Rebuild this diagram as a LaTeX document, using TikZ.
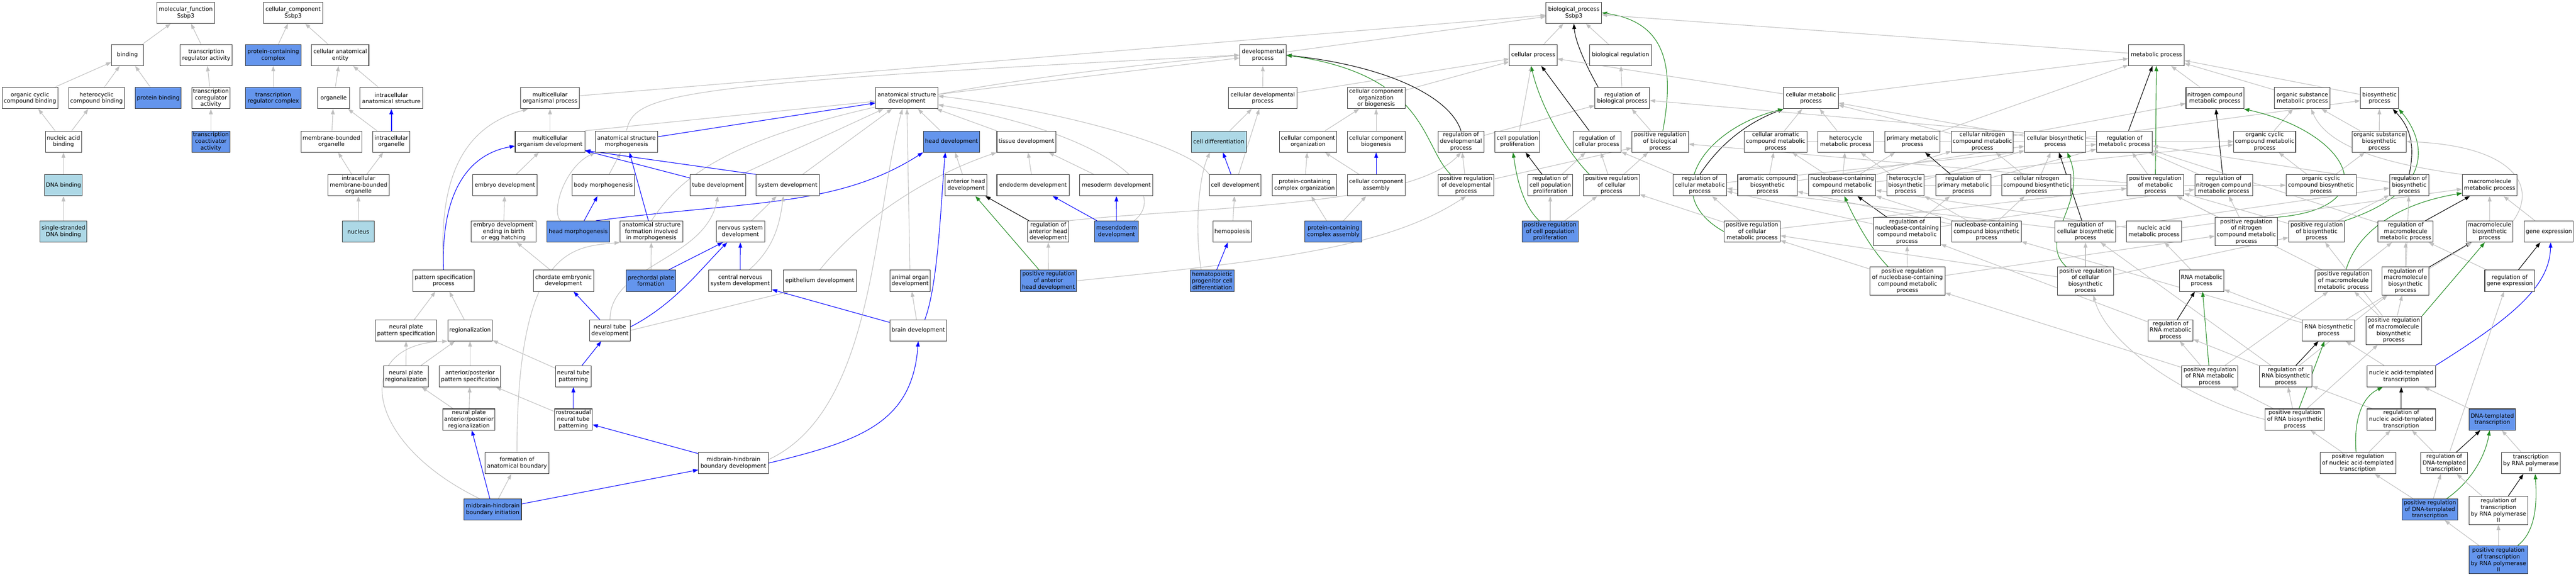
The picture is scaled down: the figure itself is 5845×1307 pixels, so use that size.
\documentclass[tikz,border=0pt]{standalone}
\usepackage{fontspec}
\setmainfont{DejaVu Sans}
\usetikzlibrary{arrows.meta}
\definecolor{cfb}{HTML}{6495ED}
\definecolor{lbc}{HTML}{ADD8E6}
\definecolor{egray}{HTML}{C0C0C0}
\definecolor{fgreen}{HTML}{228B22}
\pgfdeclarelayer{back}
\pgfdeclarelayer{edges}
\pgfsetlayers{back,edges,main}
\newcommand\gnode[6]{\node[#1,minimum width=#5bp] (#2) at (#3,#4) {#6};}
\newcommand\edg[3]{\draw[#1] (#2) -- (#3);}
\tikzset{
 gn/.style={draw=black!80, line width=1.2bp, fill=white, rectangle, inner sep=0pt, align=center, minimum height=48bp, font=\fontsize{12.8}{14.8}\selectfont, text=black},
 bn/.style={gn, fill=cfb},
 ln/.style={gn, fill=lbc},
 tall/.style={minimum height=64bp},
 ge/.style={draw=egray, line width=1.3bp, -{Triangle[length=12bp,width=8.5bp]}},
 be/.style={ge, draw=blue},
 ke/.style={ge, draw=black},
 ve/.style={ge, draw=fgreen},
}
\begin{document}
\begin{tikzpicture}[x=1bp,y=-1bp]
\useasboundingbox (0,0) rectangle (5845,1307);
\begin{pgfonlayer}{back}\fill[white] (0,0) rectangle (5845,1307);\end{pgfonlayer}
% ---------- molecular function
\gnode{gn}{mf}{421.5}{29}{131}{molecular\_function\\Ssbp3}
\gnode{gn}{binding}{289}{125}{72}{binding}
\gnode{gn}{tra}{468}{125}{118}{transcription\\regulator activity}
\gnode{gn}{occb}{68}{222.5}{126}{organic cyclic\\compound binding}
\gnode{gn}{hcb}{219}{222.5}{126}{heterocyclic\\compound binding}
\gnode{bn}{pb}{359}{222.5}{104}{protein binding}
\gnode{gn}{tcra}{478.5}{222.5}{87}{transcription\\coregulator\\activity}
\gnode{gn}{nab}{144}{321}{82}{nucleic acid\\binding}
\gnode{bn}{tcaa}{478.5}{321}{87}{transcription\\coactivator\\activity}
\gnode{ln}{dnab}{144}{420}{86}{DNA binding}
\gnode{ln}{ssdna}{144}{525}{106}{single-stranded\\DNA binding}
% ---------- cellular component
\gnode{gn}{cc}{665}{29}{134}{cellular\_component\\Ssbp3}
\gnode{bn}{pcc}{620}{125}{126}{protein-containing\\complex}
\gnode{gn}{cae}{772}{125}{130}{cellular anatomical\\entity}
\gnode{bn}{trc}{620}{222.5}{126}{transcription\\regulator complex}
\gnode{gn}{org}{757}{222.5}{72}{organelle}
\gnode{gn}{ias}{888}{222.5}{142}{intracellular\\anatomical structure}
\gnode{gn}{mbo}{752}{321}{138}{membrane-bounded\\organelle}
\gnode{gn}{io}{888}{321}{84}{intracellular\\organelle}
\gnode{gn}{imbo}{813.5}{420}{139}{intracellular\\membrane-bounded\\organelle}
\gnode{ln}{nucleus}{813}{525}{72}{nucleus}
% ---------- biological process, left
\gnode{gn}{mop}{1248}{222.5}{134}{multicellular\\organismal process}
\gnode{gn}{mod}{1248}{321}{158}{multicellular\\organism development}
\gnode{gn}{asm}{1421.5}{321}{141}{anatomical structure\\morphogenesis}
\gnode{gn}{embdev}{1145.5}{420}{147}{embryo development}
\gnode{gn}{bodym}{1369}{420}{142}{body morphogenesis}
\gnode{gn}{embbirth}{1142.5}{525}{147}{embryo development\\ending in birth\\or egg hatching}
\gnode{bn}{headm}{1312}{525}{142}{head morphogenesis}
\gnode{gn}{asfim}{1478}{525}{142}{anatomical structure\\formation involved\\in morphogenesis}
\gnode{gn}{patspec}{1006.5}{636.5}{139}{pattern specification\\process}
\gnode{gn}{chordate}{1278.5}{636.5}{137}{chordate embryonic\\development}
\gnode{bn}{prechordal}{1477}{636.5}{112}{prechordal plate\\formation}
\gnode{gn}{npps}{921.5}{749}{139}{neural plate\\pattern specification}
\gnode{gn}{regionalization}{1066.5}{749}{101}{regionalization}
\gnode{gn}{ntdev}{1384}{749}{92}{neural tube\\development}
\gnode{gn}{npreg}{921}{853}{102}{neural plate\\regionalization}
\gnode{gn}{apps}{1066.5}{853}{139}{anterior/posterior\\pattern specification}
\gnode{gn}{ntpat}{1301}{853}{80}{neural tube\\patterning}
\gnode{gn}{npap}{1064}{951}{118}{neural plate\\anterior/posterior\\regionalization}
\gnode{gn}{rostro}{1301}{951}{86}{rostrocaudal\\neural tube\\patterning}
\gnode{gn}{fab}{1173}{1050}{144}{formation of\\anatomical boundary}
\gnode{bn}{mhbi}{1118}{1155}{130}{midbrain-hindbrain\\boundary initiation}
% ---------- development, middle
\gnode{gn}{asd}{2057.5}{222.5}{141}{anatomical structure\\development}
\gnode{bn}{headdev}{2159}{321}{128}{head development}
\gnode{gn}{tissuedev}{2329}{321}{134}{tissue development}
\gnode{gn}{tubedev}{1629}{420}{126}{tube development}
\gnode{gn}{sysdev}{1787.5}{420}{143}{system development}
\gnode{gn}{antheaddev}{2192}{420}{94}{anterior head\\development}
\gnode{gn}{endodev}{2344}{420}{164}{endoderm development}
\gnode{gn}{mesodev}{2533}{420}{166}{mesoderm development}
\gnode{gn}{nsdev}{1680}{525}{110}{nervous system\\development}
\gnode{gn}{regahd}{2378.5}{525}{93}{regulation of\\anterior head\\development}
\gnode{bn}{mesendo}{2533.5}{525}{99}{mesendoderm\\development}
\gnode{gn}{cnsdev}{1679.5}{636.5}{143}{central nervous\\system development}
\gnode{gn}{epidev}{1860}{636.5}{166}{epithelium development}
\gnode{gn}{aodev}{2065}{636.5}{92}{animal organ\\development}
\gnode{bn}{prahd}{2379}{636.5}{128}{positive regulation\\of anterior\\head development}
\gnode{gn}{braindev}{2083.5}{749}{129}{brain development}
\gnode{gn}{mhbdev}{1664}{1050}{158}{midbrain-hindbrain\\boundary development}
% ---------- centre
\gnode{gn}{bp}{3571}{29}{126}{biological\_process\\Ssbp3}
\gnode{gn}{devproc}{2865.5}{125}{105}{developmental\\process}
\gnode{gn}{cellproc}{3479}{125}{108}{cellular process}
\gnode{gn}{bioreg}{3677}{125}{140}{biological regulation}
\gnode{gn}{cdp}{2865}{222.5}{156}{cellular developmental\\process}
\gnode{gn}{ccoob}{3122.5}{222.5}{131}{cellular component\\organization\\or biogenesis}
\gnode{gn}{rbp}{3681}{222.5}{124}{regulation of\\biological process}
\gnode{gn}{cellmet}{4109}{222.5}{124}{cellular metabolic\\process}
\gnode{ln}{celldiff}{2765.5}{321}{125}{cell differentiation}
\gnode{gn}{cco}{2968}{321}{130}{cellular component\\organization}
\gnode{gn}{ccb}{3122.5}{321}{131}{cellular component\\biogenesis}
\gnode{gn}{rdp}{3315}{321}{104}{regulation of\\developmental\\process}
\gnode{gn}{cpp}{3443}{321}{102}{cell population\\proliferation}
\gnode{gn}{rcp}{3624}{321}{108}{regulation of\\cellular process}
\gnode{gn}{prbp}{3767}{321}{128}{positive regulation\\of biological\\process}
\gnode{gn}{cacmp}{4029}{321}{142}{cellular aromatic\\compound metabolic\\process}
\gnode{gn}{hmp}{4188}{321}{126}{heterocycle\\metabolic process}
\gnode{gn}{pmp}{4339.5}{321}{125}{primary metabolic\\process}
\gnode{gn}{cncmp}{4498}{321}{140}{cellular nitrogen\\compound metabolic\\process}
\gnode{gn}{cbp}{4663.5}{321}{139}{cellular biosynthetic\\process}
\gnode{gn}{celldev}{2802.5}{420}{117}{cell development}
\gnode{gn}{pcco}{2960}{420}{146}{protein-containing\\complex organization}
\gnode{gn}{cca}{3122.5}{420}{131}{cellular component\\assembly}
\gnode{gn}{prdp}{3326.5}{420}{127}{positive regulation\\of developmental\\process}
\gnode{gn}{rcpp}{3517.5}{420}{101}{regulation of\\cell population\\proliferation}
\gnode{gn}{prcp}{3656.5}{420}{127}{positive regulation\\of cellular\\process}
\gnode{gn}{rcmp}{3857}{420}{122}{regulation of\\cellular metabolic\\process}
\gnode{gn}{acbp}{4010.5}{420}{135}{aromatic compound\\biosynthetic\\process}
\gnode{gn}{ncmp}{4180}{420}{152}{nucleobase-containing\\compound metabolic\\process}
\gnode{gn}{hbp}{4323.5}{420}{85}{heterocycle\\biosynthetic\\process}
\gnode{gn}{rpmp}{4454.5}{420}{125}{regulation of\\primary metabolic\\process}
\gnode{gn}{cncbp}{4620.5}{420}{157}{cellular nitrogen\\compound biosynthetic\\process}
\gnode{gn}{hemo}{2796}{525}{88}{hemopoiesis}
\gnode{bn}{pcca}{3025.5}{525}{129}{protein-containing\\complex assembly}
\gnode{bn}{prcpp}{3517.5}{525}{127}{positive regulation\\of cell population\\proliferation}
\gnode{gn}{prcmp}{3975.5}{525}{127}{positive regulation\\of cellular\\metabolic process}
\gnode{gn,tall}{rncmp}{4327}{525}{152}{regulation of\\nucleobase-containing\\compound metabolic\\process}
\gnode{gn}{ncbp}{4507.5}{525}{157}{nucleobase-containing\\compound biosynthetic\\process}
\gnode{gn}{rcbp}{4732}{525}{138}{regulation of\\cellular biosynthetic\\process}
\gnode{bn}{hpcd}{2750.5}{636.5}{99}{hematopoietic\\progenitor cell\\differentiation}
\gnode{gn,tall}{prncmp}{4328}{637}{170}{positive regulation\\of nucleobase-containing\\compound metabolic\\process}
\gnode{gn,tall}{prcbp}{4732}{637}{128}{positive regulation\\of cellular\\biosynthetic\\process}
% ---------- right
\gnode{gn}{metproc}{4893}{125}{126}{metabolic process}
\gnode{gn}{ncmp2}{5025.5}{222.5}{131}{nitrogen compound\\metabolic process}
\gnode{gn}{osmp}{5224}{222.5}{126}{organic substance\\metabolic process}
\gnode{gn}{biosyn}{5399}{222.5}{86}{biosynthetic\\process}
\gnode{gn}{rmp}{4820.5}{321}{127}{regulation of\\metabolic process}
\gnode{gn}{occmp}{5138.5}{321}{141}{organic cyclic\\compound metabolic\\process}
\gnode{gn}{osbp}{5398.5}{321}{123}{organic substance\\biosynthetic\\process}
\gnode{gn}{prmp}{4890.5}{420}{129}{positive regulation\\of metabolic\\process}
\gnode{gn}{rncm}{5045.5}{420}{131}{regulation of\\nitrogen compound\\metabolic process}
\gnode{gn}{occbp}{5266.5}{420}{159}{organic cyclic\\compound biosynthetic\\process}
\gnode{gn}{rbsp}{5466.5}{420}{89}{regulation of\\biosynthetic\\process}
\gnode{gn}{mmp}{5649}{420}{124}{macromolecule\\metabolic process}
\gnode{gn}{namp}{4887.5}{525}{125}{nucleic acid\\metabolic process}
\gnode{gn,tall}{prncm}{5097}{525}{142}{positive regulation\\of nitrogen\\compound metabolic\\process}
\gnode{gn}{prbsp}{5256.5}{525}{127}{positive regulation\\of biosynthetic\\process}
\gnode{gn}{rmmp}{5458.5}{525}{125}{regulation of\\macromolecule\\metabolic process}
\gnode{gn}{mbp}{5649}{525}{106}{macromolecule\\biosynthetic\\process}
\gnode{gn}{geneexp}{5783.5}{525}{111}{gene expression}
\gnode{gn}{rnamp}{4995.5}{636.5}{101}{RNA metabolic\\process}
\gnode{gn}{prmmp}{5317}{636.5}{128}{positive regulation\\of macromolecule\\metabolic process}
\gnode{gn,tall}{rmbp}{5458}{637}{106}{regulation of\\macromolecule\\biosynthetic\\process}
\gnode{gn}{rge}{5694.5}{636.5}{113}{regulation of\\gene expression}
\gnode{gn}{rrnamp}{4925}{749}{102}{regulation of\\RNA metabolic\\process}
\gnode{gn}{rnabp}{5283.5}{749}{119}{RNA biosynthetic\\process}
\gnode{gn,tall}{prmbp}{5431.5}{749}{127}{positive regulation\\of macromolecule\\biosynthetic\\process}
\gnode{gn}{prrnamp}{5014}{853}{128}{positive regulation\\of RNA metabolic\\process}
\gnode{gn}{rrnabp}{5186.5}{853}{119}{regulation of\\RNA biosynthetic\\process}
\gnode{gn}{nat}{5448.5}{853}{155}{nucleic acid-templated\\transcription}
\gnode{gn}{prrnabp}{5207}{951}{134}{positive regulation\\of RNA biosynthetic\\process}
\gnode{gn}{rnat}{5448.5}{951}{155}{regulation of\\nucleic acid-templated\\transcription}
\gnode{bn}{dtt}{5655}{951}{106}{DNA-templated\\transcription}
\gnode{gn}{prnat}{5350}{1050}{172}{positive regulation\\of nucleic acid-templated\\transcription}
\gnode{gn}{rdtt}{5546}{1050}{106}{regulation of\\DNA-templated\\transcription}
\gnode{gn}{trp2}{5742.5}{1050}{133}{transcription\\by RNA polymerase\\II}
\gnode{bn}{prdtt}{5513.5}{1155}{127}{positive regulation\\of DNA-templated\\transcription}
\gnode{gn,tall}{rtrp2}{5669}{1157}{134}{regulation of\\transcription\\by RNA polymerase\\II}
\gnode{bn,tall}{prtrp2}{5669}{1269}{134}{positive regulation\\of transcription\\by RNA polymerase\\II}

\begin{pgfonlayer}{edges}
% MF
\edg{ge}{binding}{mf}
\edg{ge}{tra}{mf}
\edg{ge}{occb}{binding}
\edg{ge}{hcb}{binding}
\edg{ge}{pb}{binding}
\edg{ge}{tcra}{tra}
\edg{ge}{nab}{occb}
\edg{ge}{nab}{hcb}
\edg{ge}{tcaa}{tcra}
\edg{ge}{dnab}{nab}
\edg{ge}{ssdna}{dnab}
% CC
\edg{ge}{pcc}{cc}
\edg{ge}{cae}{cc}
\edg{ge}{trc}{pcc}
\edg{ge}{org}{cae}
\edg{ge}{ias}{cae}
\edg{ge}{mbo}{org}
\edg{ge}{io}{org}
\draw[be,line width=2.6bp] (io) -- (ias);
\edg{ge}{imbo}{mbo}
\edg{ge}{imbo}{io}
\edg{ge}{nucleus}{imbo}
% BP left
\edg{ge}{mop}{bp}
\edg{ge}{mod}{mop}
\draw[ge] (mod.north east) -- (asd);
\draw[ge] (patspec.north) .. controls (995,420) and (1040,290) .. ([xshift=-50bp]mop.south);
\draw[be] (patspec.north) .. controls (1000,440) and (1060,350) .. ([yshift=-10bp]mod.west);
\edg{be}{asm}{asd}
\draw[ge] (asm.north) .. controls (1440,215) and (1500,190) .. (devproc.west);
\edg{ge}{embdev}{mod}
\edg{ge}{bodym}{asm}
\edg{be}{headm}{bodym}
\draw[ge] ([xshift=-40bp]headm.north) .. controls (1250,480) and (1280,380) .. (asm.south west);
\draw[be] ([xshift=40bp]headm.north) .. controls (1700,455) and (1900,470) .. (headdev.south west);
\edg{be}{asfim}{asm}
\draw[ge] (asfim.north) .. controls (1560,380) and (1700,230) .. (devproc.west);
\edg{ge}{embbirth}{embdev}
\edg{ge}{chordate}{embbirth}
\edg{ge}{prechordal}{asfim}
\draw[be] ([xshift=40bp]prechordal.north) -- ([xshift=-40bp]nsdev.south);
\edg{ge}{npps}{patspec}
\edg{ge}{regionalization}{patspec}
\edg{ge}{npreg}{npps}
\edg{ge}{npreg}{regionalization}
\edg{ge}{apps}{regionalization}
\edg{ge}{ntpat}{regionalization}
\edg{be}{ntpat}{ntdev}
\edg{be}{ntdev}{chordate}
\draw[ge] (ntdev.north) .. controls (1385,600) and (1600,590) .. (tubedev.south);
\draw[ge] (ntdev.east) -- ([xshift=14bp]epidev.south west);
\draw[be] ([yshift=8bp]ntdev.east) .. controls (1530,690) and (1590,610) .. ([xshift=-30bp]nsdev.south);
\edg{ge}{npap}{npreg}
\edg{ge}{npap}{apps}
\edg{be}{rostro}{ntpat}
\edg{ge}{rostro}{apps}
\draw[ge] (fab.north) .. controls (1173,560) and (1300,560) .. (asfim.south west);
\edg{be}{mhbi}{npap}
\edg{ge}{mhbi}{fab}
\draw[ge] ([xshift=-30bp]mhbi.north) .. controls (820,1000) and (800,780) .. (regionalization.south west);
\edg{be}{mhbi}{mhbdev}
\edg{be}{mhbdev}{rostro}
\draw[be] (mhbdev.east) .. controls (1950,1000) and (2070,960) .. (braindev.south);
\draw[ge] ([yshift=8bp]mhbdev.east) .. controls (1985,930) and (1980,500) .. ([xshift=-10bp]asd.south);
% development middle
\edg{ge}{asd}{devproc}
\edg{ge}{headdev}{asd}
\edg{ge}{tissuedev}{asd}
\edg{ge}{tubedev}{asd}
\edg{be}{tubedev}{mod}
\draw[be] (sysdev.north west) -- ([yshift=-20bp]mod.east);
\edg{ge}{sysdev}{asd}
\edg{ge}{antheaddev}{headdev}
\edg{ge}{endodev}{tissuedev}
\edg{ge}{mesodev}{tissuedev}
\edg{ge}{nsdev}{sysdev}
\edg{be}{cnsdev}{nsdev}
\draw[ge] ([xshift=20bp]cnsdev.north) .. controls (1760,560) and (1770,500) .. ([xshift=-10bp]sysdev.south);
\edg{ke}{regahd}{antheaddev}
\draw[ge] (regahd.north east) .. controls (2700,470) and (3200,470) .. (rdp.south);
\edg{be}{mesendo}{endodev}
\edg{be}{mesendo}{mesodev}
\draw[ge] ([xshift=40bp]mesendo.north) .. controls (2660,430) and (2500,300) .. ([yshift=-15bp]asd.east);
\draw[ge] (epidev.north) .. controls (1950,500) and (2100,400) .. (tissuedev.south west);
\edg{ge}{aodev}{asd}
\edg{ve}{prahd}{antheaddev}
\edg{ge}{prahd}{regahd}
\draw[ge] (prahd.east) .. controls (2900,590) and (3150,560) .. (prdp.south);
\edg{be}{braindev}{cnsdev}
\edg{ge}{braindev}{aodev}
\draw[be] ([xshift=15bp]braindev.north) .. controls (2130,640) and (2135,450) .. ([xshift=-14bp]headdev.south);
\draw[ge] (celldev.north west) .. controls (2700,330) and (2400,250) .. ([yshift=5bp]asd.east);
% centre
\edg{ge}{devproc}{bp}
\edg{ge}{cellproc}{bp}
\edg{ge}{bioreg}{bp}
\draw[ke] ([xshift=8bp]rbp.north west) .. controls (3605,160) and (3575,100) .. (bp.south);
\edg{ge}{rbp}{bioreg}
\edg{ge}{cdp}{devproc}
\edg{ge}{cdp}{cellproc}
\edg{ge}{ccoob}{cellproc}
\edg{ge}{celldiff}{cdp}
\edg{ge}{celldev}{cdp}
\edg{be}{celldev}{celldiff}
\edg{ge}{cco}{ccoob}
\edg{ge}{ccb}{ccoob}
\edg{ge}{pcco}{cco}
\edg{ge}{cca}{cco}
\edg{be}{cca}{ccb}
\edg{ge}{pcca}{pcco}
\edg{ge}{pcca}{cca}
\edg{ge}{hemo}{celldev}
\edg{be}{hpcd}{hemo}
\draw[ge] ([xshift=-25bp]hpcd.north) .. controls (2710,520) and (2720,400) .. ([xshift=-20bp]celldiff.south);
\draw[ke] (rdp.north) .. controls (3290,220) and (3150,150) .. (devproc.east);
\edg{ge}{rdp}{rbp}
\draw[ve] ([xshift=-35bp]prdp.north) .. controls (3225,330) and (3240,170) .. (devproc.east);
\edg{ge}{prdp}{rdp}
\edg{ge}{prdp}{prbp}
\edg{ge}{cpp}{cellproc}
\edg{ke}{rcpp}{cpp}
\edg{ge}{rcpp}{rcp}
\draw[ve] ([xshift=-25bp]prcpp.north) .. controls (3450,460) and (3440,390) .. ([xshift=-10bp]cpp.south);
\edg{ge}{prcpp}{rcpp}
\edg{ge}{prcpp}{prcp}
\edg{ke}{rcp}{cellproc}
\draw[ve] ([xshift=-50bp]prcp.north) .. controls (3570,360) and (3500,260) .. ([xshift=-5bp]cellproc.south);
\edg{ge}{prcp}{rcp}
\edg{ge}{prcp}{prbp}
\edg{ge}{prbp}{rbp}
\draw[ve] ([xshift=6bp]prbp.north) .. controls (3800,150) and (3780,50) .. (bp.east);
\edg{ge}{cellmet}{cellproc}
\edg{ge}{cellmet}{metproc}
% metabolic
\draw[ke] (rcmp.north) .. controls (3900,330) and (3960,280) .. (cellmet.south west);
\edg{ge}{rcmp}{rcp}
\edg{ge}{rcmp}{rmp}
\draw[ve] (prcmp.west) .. controls (3760,440) and (3870,290) .. (cellmet.south west);
\edg{ge}{prcmp}{rcmp}
\edg{ge}{prcmp}{prcp}
\edg{ge}{prcmp}{prmp}
\edg{ge}{cacmp}{cellmet}
\edg{ge}{cacmp}{occmp}
\edg{ge}{hmp}{cellmet}
\edg{ge}{hmp}{occmp}
\edg{ge}{pmp}{metproc}
\edg{ge}{cncmp}{cellmet}
\edg{ge}{cncmp}{ncmp2}
\edg{ge}{cbp}{cellmet}
\edg{ge}{cbp}{biosyn}
\edg{ge}{acbp}{cacmp}
\edg{ge}{acbp}{cbp}
\edg{ge}{ncmp}{cacmp}
\edg{ge}{ncmp}{hmp}
\edg{ge}{ncmp}{cncmp}
\edg{ge}{ncmp}{pmp}
\edg{ge}{ncmp}{occmp}
\edg{ge}{hbp}{hmp}
\edg{ge}{hbp}{cbp}
\edg{ge}{hbp}{occbp}
\edg{ke}{rpmp}{pmp}
\edg{ge}{rpmp}{rmp}
\edg{ge}{cncbp}{cncmp}
\edg{ge}{cncbp}{cbp}
\edg{ke}{rncmp}{ncmp}
\edg{ge}{rncmp}{rcmp}
\edg{ge}{rncmp}{rpmp}
\edg{ge}{rncmp}{rncm}
\edg{ge}{ncbp}{ncmp}
\edg{ge}{ncbp}{hbp}
\edg{ge}{ncbp}{acbp}
\edg{ge}{ncbp}{cncbp}
\edg{ke}{rcbp}{cbp}
\edg{ge}{rcbp}{rcmp}
\edg{ge}{rcbp}{rbsp}
\draw[ve] ([xshift=-44bp]prncmp.north) .. controls (4240,560) and (4200,480) .. ([xshift=5bp]ncmp.south);
\edg{ge}{prncmp}{rncmp}
\edg{ge}{prncmp}{prcmp}
\edg{ge}{prncmp}{prncm}
\draw[ve] ([xshift=-44bp]prcbp.north) .. controls (4620,540) and (4740,460) .. ([xshift=27bp]cbp.south);
\edg{ge}{prcbp}{rcbp}
\edg{ge}{prcbp}{prcmp}
\edg{ge}{prcbp}{prbsp}
\edg{ge}{metproc}{bp}
\edg{ke}{rmp}{metproc}
\edg{ge}{rmp}{rbp}
\edg{ve}{prmp}{metproc}
\edg{ge}{prmp}{rmp}
\edg{ge}{prmp}{prbp}
\edg{ge}{ncmp2}{metproc}
\edg{ge}{osmp}{metproc}
\edg{ge}{biosyn}{metproc}
\edg{ge}{occmp}{osmp}
\edg{ge}{osbp}{osmp}
\edg{ge}{osbp}{biosyn}
\edg{ke}{rncm}{ncmp2}
\edg{ge}{rncm}{rmp}
\draw[ve] (prncm.north east) .. controls (5420,470) and (5330,300) .. (ncmp2.south east);
\edg{ge}{prncm}{rncm}
\edg{ge}{prncm}{prmp}
\edg{ge}{occbp}{occmp}
\edg{ge}{occbp}{osbp}
\draw[ke] (rbsp.north) .. controls (5480,330) and (5470,290) .. ([xshift=30bp]biosyn.south);
\edg{ge}{rbsp}{rmp}
\draw[ve] (prbsp.north east) .. controls (5560,420) and (5480,290) .. (biosyn.south east);
\edg{ge}{prbsp}{rbsp}
\edg{ge}{prbsp}{prmp}
\draw[ge] (mmp.north west) .. controls (5400,370) and (5280,330) .. ([xshift=20bp]osmp.south);
\edg{ke}{rmmp}{mmp}
\edg{ge}{rmmp}{rmp}
\edg{ge}{mbp}{mmp}
\draw[ge] (mbp.north east) .. controls (5760,420) and (5700,330) .. (osbp.east);
\edg{ge}{geneexp}{mmp}
\edg{ge}{namp}{ncmp}
\edg{ge}{namp}{mmp}
\draw[ve] ([xshift=6bp]prmmp.north) .. controls (5350,520) and (5450,460) .. ([yshift=-18bp]mmp.west);
\edg{ge}{prmmp}{rmmp}
\edg{ge}{prmmp}{prmp}
\edg{ge}{rmbp}{rmmp}
\edg{ke}{rmbp}{mbp}
\edg{ge}{rmbp}{rbsp}
\edg{ke}{rge}{geneexp}
\edg{ge}{rge}{rmmp}
\edg{ge}{rnamp}{namp}
\edg{ke}{rrnamp}{rnamp}
\edg{ge}{rrnamp}{rncmp}
\edg{ge}{rnabp}{rnamp}
\edg{ge}{rnabp}{ncbp}
\edg{ge}{rnabp}{mbp}
\edg{ge}{prmbp}{rmbp}
\edg{ge}{prmbp}{prmmp}
\draw[ve] (prmbp.north east) -- ([xshift=-11bp]mbp.south);
\edg{ge}{prmbp}{prbsp}
\edg{ve}{prrnamp}{rnamp}
\edg{ge}{prrnamp}{rrnamp}
\edg{ge}{prrnamp}{prmmp}
\edg{ge}{prrnamp}{prncmp}
\edg{ke}{rrnabp}{rnabp}
\edg{ge}{rrnabp}{rrnamp}
\edg{ge}{rrnabp}{rmbp}
\edg{ge}{rrnabp}{rcbp}
\edg{ge}{nat}{rnabp}
\draw[be] (nat.north east) .. controls (5700,720) and (5785,650) .. ([xshift=4bp]geneexp.south);
\edg{ge}{prrnabp}{rrnabp}
\edg{ge}{prrnabp}{prrnamp}
\edg{ve}{prrnabp}{rnabp}
\edg{ge}{prrnabp}{prmbp}
\draw[ge] (prrnabp.west) .. controls (4960,905) and (4780,780) .. ([xshift=18bp]prcbp.south);
\edg{ke}{rnat}{nat}
\edg{ge}{rnat}{rrnabp}
\edg{ge}{dtt}{nat}
\edg{ge}{prnat}{rnat}
\edg{ge}{prnat}{prrnabp}
\draw[ve] ([xshift=-4bp]prnat.north) .. controls (5340,950) and (5360,900) .. ([xshift=-42bp]nat.south);
\edg{ge}{rdtt}{rnat}
\edg{ke}{rdtt}{dtt}
\draw[ge] ([xshift=12bp]rdtt.north) -- ([xshift=-13bp]rge.south);
\edg{ge}{trp2}{dtt}
\edg{ge}{prdtt}{prnat}
\edg{ge}{prdtt}{rdtt}
\draw[ve] ([xshift=38bp]prdtt.north) .. controls (5610,1090) and (5640,1030) .. ([xshift=-6bp]dtt.south);
\edg{ke}{rtrp2}{trp2}
\edg{ge}{rtrp2}{rdtt}
\edg{ge}{prtrp2}{prdtt}
\edg{ge}{prtrp2}{rtrp2}
\draw[ve] ([xshift=44bp]prtrp2.north) .. controls (5760,1200) and (5755,1120) .. ([xshift=10bp]trp2.south);
\end{pgfonlayer}
\end{tikzpicture}
\end{document}
